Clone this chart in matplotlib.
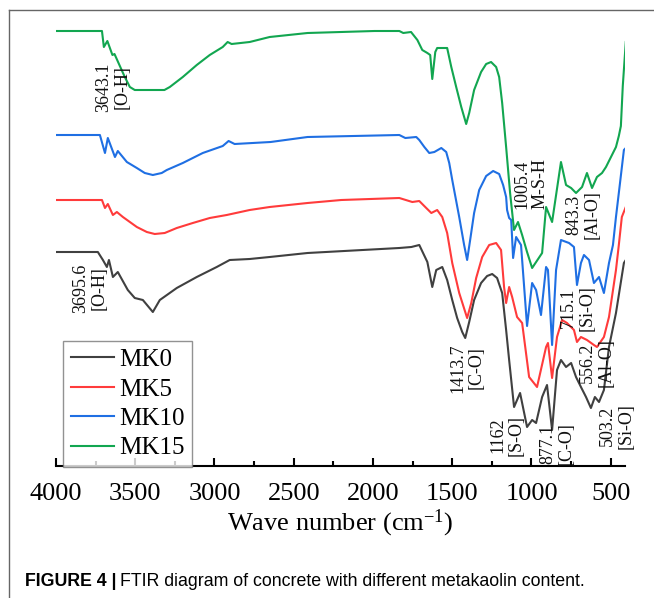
import matplotlib
matplotlib.use("Agg")
import matplotlib.pyplot as plt
from matplotlib.lines import Line2D

plt.rcParams["font.family"] = ["Liberation Serif", "DejaVu Serif"]
plt.rcParams["mathtext.default"] = "regular"

# wavenumber (cm-1) / transmittance (arbitrary, offset)
mk15_wn = [4000, 3710, 3698, 3676, 3644, 3631, 3566, 3534, 3503, 3487, 3316, 3282, 3200, 3112,
           3030, 2948, 2917, 2892, 2778, 2652, 2413, 1991, 1834, 1809, 1760, 1720, 1689, 1657,
           1639, 1626, 1607, 1595, 1538, 1532, 1506, 1475, 1443, 1412, 1393, 1362, 1318, 1286,
           1255, 1223, 1204, 1185, 1160, 1135, 1110, 1085, 1059, 1028, 996, 933, 908, 870,
           814, 782, 750, 719, 700, 681, 650, 618, 587, 555, 530, 467, 449, 436, 424, 405]
mk15_t = [435, 435, 419, 425, 411, 412, 389, 379, 376, 376, 376, 379, 389, 401,
          411, 419, 424, 422, 424, 429, 433, 435, 435, 433, 434, 426, 416, 413,
          411, 387, 414, 418, 418, 418, 399, 379, 359, 342, 353, 376, 394, 402,
          404, 399, 389, 363, 319, 273, 236, 244, 231, 214, 198, 213, 259, 244,
          304, 281, 278, 273, 276, 279, 293, 278, 289, 293, 299, 319, 330, 340, 380, 424]

mk10_wn = [4000, 3723, 3691, 3673, 3628, 3610, 3553, 3490, 3440, 3389, 3333, 3301, 3200, 3074,
           2948, 2911, 2873, 2646, 2413, 1834, 1796, 1727, 1708, 1676, 1645, 1613, 1569, 1538,
           1519, 1500, 1456, 1425, 1406, 1387, 1362, 1330, 1286, 1242, 1204, 1179, 1160, 1154,
           1141, 1128, 1116, 1097, 1066, 1028, 996, 971, 940, 908, 896, 870, 845, 814, 763,
           732, 713, 688, 669, 637, 606, 574, 543, 511, 486, 467, 443, 417, 405]
mk10_t = [331, 331, 313, 328, 309, 315, 304, 298, 293, 291, 293, 296, 303, 313,
          320, 325, 322, 324, 329, 331, 328, 329, 326, 319, 313, 314, 318, 314,
          303, 286, 249, 221, 206, 226, 253, 276, 290, 295, 292, 281, 269, 256,
          248, 246, 208, 229, 221, 140, 183, 176, 151, 199, 196, 121, 196, 226, 223,
          219, 181, 203, 211, 206, 183, 189, 173, 203, 221, 249, 281, 316, 318]

mk5_wn = [4000, 3710, 3691, 3673, 3641, 3616, 3578, 3490, 3427, 3377, 3314, 3238, 3137, 3030,
          2923, 2778, 2652, 2413, 2200, 1834, 1752, 1708, 1664, 1632, 1595, 1563, 1532, 1500,
          1456, 1406, 1380, 1349, 1311, 1267, 1223, 1192, 1173, 1160, 1141, 1122, 1091, 1059,
          1015, 965, 908, 896, 870, 839, 807, 776, 732, 713, 688, 650, 606, 587, 543, 511,
          467, 449, 430, 405]
mk5_t = [266, 266, 258, 262, 251, 254, 249, 239, 234, 232, 233, 238, 243, 248,
         251, 256, 259, 263, 266, 268, 264, 265, 258, 253, 256, 249, 233, 203,
         173, 148, 163, 188, 209, 221, 223, 216, 179, 163, 179, 169, 149, 143,
         89, 79, 119, 123, 88, 129, 146, 143, 136, 124, 129, 126, 121, 119, 129, 149,
         196, 221, 249, 259]

mk0_wn = [4000, 3736, 3704, 3679, 3666, 3641, 3610, 3547, 3503, 3452, 3389, 3345, 3238, 3112,
          2986, 2904, 2778, 2652, 2413, 1834, 1758, 1708, 1657, 1626, 1601, 1563, 1532, 1500,
          1469, 1437, 1418, 1393, 1362, 1318, 1280, 1248, 1217, 1185, 1160, 1141, 1110, 1072,
          1028, 996, 971, 933, 902, 870, 839, 814, 782, 750, 719, 688, 656, 625, 600, 574,
          543, 511, 467, 417, 405]
mk0_t = [214, 214, 206, 199, 206, 189, 194, 176, 168, 166, 154, 166, 178, 189,
         199, 206, 207, 209, 213, 218, 219, 221, 204, 179, 196, 199, 186, 166,
         148, 134, 128, 144, 166, 183, 190, 192, 188, 173, 136, 106, 59, 73,
         39, 46, 43, 69, 81, 36, 96, 106, 99, 103, 89, 79, 69, 58, 69, 64,
         76, 119, 153, 203, 206]

labels = ["MK0", "MK5", "MK10", "MK15"]
colors = ["#404040", "#ff3b3b", "#1f6fe3", "#12a650"]

notes = ["3643.1\n[O-H]", "3695.6\n[O-H]", "1413.7\n[C-O]", "1162\n[S-O]", "877.1\n[C-O]",
         "1005.4\nM-S-H", "843.3\n[Al-O]", "715.1\n[Si-O]", "556.2\n[Al-O]", "503.2\n[Si-O]"]
note_pos = [(3641, 379), (3786, 178), (1406, 98), (1154, 31), (839, 22),
            (1003, 282), (675, 251), (707, 158), (587, 103), (461, 40)]

fig = plt.figure(figsize=(6.54, 5.98), dpi=100)
ax = fig.add_axes([56 / 654, 1 - 466 / 598, 569 / 654, 446 / 598])

series = [(mk0_wn, mk0_t), (mk5_wn, mk5_t), (mk10_wn, mk10_t), (mk15_wn, mk15_t)]
for (wn, t), lab, c in zip(series, labels, colors):
    ax.plot(wn, t, color=c, lw=1.5, label=lab)

for txt, (x, y) in zip(notes, note_pos):
    ax.text(x, y, txt, rotation=90, ha="center", va="center", multialignment="center",
            fontsize=13, linespacing=1.15, color="#111111")

ax.set_xlim(4000, 410)
ax.set_ylim(0, 446)
ax.set_xticks([4000, 3500, 3000, 2500, 2000, 1500, 1000, 500])
ax.set_xticks([3750, 3250, 2750, 2250, 1750, 1250, 750], minor=True)
ax.set_yticks([])
for s in ["left", "right", "top"]:
    ax.spines[s].set_visible(False)
ax.spines["bottom"].set_linewidth(1.5)
ax.tick_params(axis="x", which="major", direction="in", length=6, width=1.5, labelsize=19, pad=12,
               labelfontfamily="Liberation Serif")
ax.tick_params(axis="x", which="minor", direction="in", length=3.5, width=1.5)
ax.set_xlabel("Wave number (cm$^{-1}$)", fontsize=19, labelpad=2)

leg = ax.legend(loc="lower left", bbox_to_anchor=(63 / 654, 1 - 467 / 598), bbox_transform=fig.transFigure,
                fontsize=18, frameon=True, fancybox=False, borderaxespad=0, handlelength=1.75,
                handletextpad=0.2, labelspacing=0.28, borderpad=0.3)
leg.get_frame().set_edgecolor("#777777")
leg.get_frame().set_linewidth(1.0)

# outer border of the figure panel
fig.add_artist(Line2D([9 / 654, 9 / 654], [0, 1 - 10 / 598], transform=fig.transFigure, color="#666666", lw=1))
fig.add_artist(Line2D([9 / 654, 1], [1 - 10 / 598, 1 - 10 / 598], transform=fig.transFigure, color="#666666", lw=1))

cap_family = ["Liberation Sans Narrow", "Liberation Sans", "DejaVu Sans"]
t1 = fig.text(25 / 654, 1 - 581 / 598, "FIGURE 4 |", fontsize=12.8, fontweight="bold",
              family=cap_family, va="center", ha="left")
fig.canvas.draw()
bb = t1.get_window_extent()
fig.text((bb.x1 + 4) / 654, 1 - 581 / 598, "FTIR diagram of concrete with different metakaolin content.",
         fontsize=12.8, family=cap_family, va="center", ha="left")

fig.savefig("out.png", dpi=100)
